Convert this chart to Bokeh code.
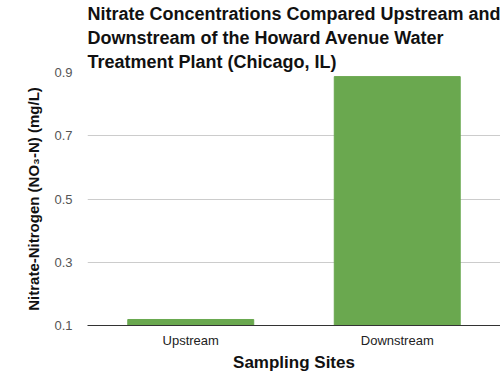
from bokeh.plotting import figure
from bokeh.models import FactorRange, Range1d, FixedTicker
from bokeh.embed import file_html
from bokeh.resources import INLINE

sites = ["Upstream", "Downstream"]
nitrate = [0.119, 0.887]
y_ticks = [0.1, 0.3, 0.5, 0.7, 0.9]
title_lines = ["Nitrate Concentrations Compared Upstream and",
               "Downstream of the Howard Avenue Water",
               "Treatment Plant (Chicago, IL)"]
y_label = "Nitrate-Nitrogen (NO\u2083-N) (mg/L)"
x_label = "Sampling Sites"

FONT = "Liberation Sans"

p = figure(width=500, height=384,
           x_range=FactorRange(*sites, range_padding=0),
           y_range=Range1d(0.1, 0.9),
           output_backend="svg", toolbar_location=None,
           min_border_left=87, min_border_right=0,
           min_border_bottom=59, min_border_top=72)

p.title.text = "\n".join(title_lines)
p.title.text_font = FONT
p.title.text_font_size = "18px"
p.title.text_font_style = "bold"
p.title.text_color = "#111111"
p.title.align = "left"
p.title.text_line_height = 1.2
p.title.standoff = 2
p.title.offset = 0

p.vbar(x=sites, top=nitrate, bottom=0, width=0.61, color="#6aa84f")

p.outline_line_color = None
p.xgrid.grid_line_color = None
p.ygrid.grid_line_color = "#cccccc"
p.ygrid.ticker = FixedTicker(ticks=y_ticks)

p.yaxis.ticker = FixedTicker(ticks=y_ticks)
p.yaxis.axis_line_color = None
p.yaxis.major_tick_line_color = None
p.yaxis.minor_tick_line_color = None
p.yaxis.major_label_standoff = 9
p.yaxis.major_label_text_font = FONT
p.yaxis.major_label_text_font_size = "13px"
p.yaxis.major_label_text_color = "#555555"
p.yaxis.axis_label = y_label
p.yaxis.axis_label_text_font = FONT
p.yaxis.axis_label_text_font_size = "15px"
p.yaxis.axis_label_text_font_style = "bold"
p.yaxis.axis_label_text_color = "#111111"
p.yaxis.axis_label_standoff = 9

p.xaxis.axis_line_color = "#333333"
p.xaxis.major_tick_line_color = None
p.xaxis.minor_tick_line_color = None
p.xaxis.major_label_standoff = 1
p.xaxis.major_label_text_font = FONT
p.xaxis.major_label_text_font_size = "13px"
p.xaxis.major_label_text_color = "#222222"
p.xaxis.axis_label = x_label
p.xaxis.axis_label_text_font = FONT
p.xaxis.axis_label_text_font_size = "17px"
p.xaxis.axis_label_text_font_style = "bold"
p.xaxis.axis_label_text_color = "#111111"
p.xaxis.axis_label_standoff = 2

open("out.html", "w").write(file_html(p, INLINE))
